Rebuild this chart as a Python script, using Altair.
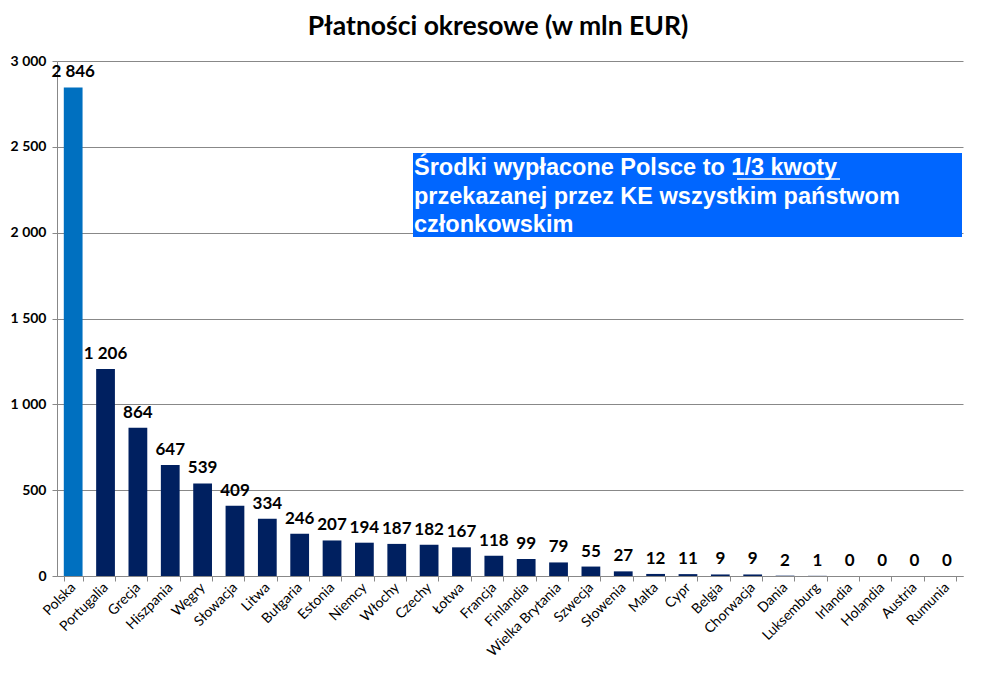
import altair as alt
import pandas as pd

countries = ["Polska", "Portugalia", "Grecja", "Hiszpania", "Węgry", "Słowacja", "Litwa",
             "Bułgaria", "Estonia", "Niemcy", "Włochy", "Czechy", "Łotwa", "Francja",
             "Finlandia", "Wielka Brytania", "Szwecja", "Słowenia", "Malta", "Cypr",
             "Belgia", "Chorwacja", "Dania", "Luksemburg", "Irlandia", "Holandia",
             "Austria", "Rumunia"]
values = [2846, 1206, 864, 647, 539, 409, 334, 246, 207, 194, 187, 182, 167, 118,
          99, 79, 55, 27, 12, 11, 9, 9, 2, 1, 0, 0, 0, 0]
labels = [f"{v:,}".replace(",", " ") for v in values]
highlight = ["Polska"]

box_lines = ["Środki wypłacone Polsce to 1/3 kwoty",
             "przekazanej przez KE wszystkim państwom",
             "członkowskim"]

df = pd.DataFrame({"kraj": countries, "wartosc": values, "etykieta": labels})

FONT = "Lato"

x = alt.X("kraj:N", sort=countries, title=None,
          scale=alt.Scale(paddingInner=0.42, paddingOuter=0.21),
          axis=alt.Axis(labelAngle=315, labelAlign="right", labelBaseline="middle",
                        labelFontSize=14, labelFont=FONT, labelColor="#000000",
                        labelPadding=4, tickBand="extent", tickSize=5,
                        tickColor="#888888", domainColor="#888888", labelOverlap=False))
y = alt.Y("wartosc:Q", title=None,
          scale=alt.Scale(domain=[0, 3000], nice=False),
          axis=alt.Axis(values=[0, 500, 1000, 1500, 2000, 2500, 3000],
                        labelExpr="replace(format(datum.value, ','), ',', ' ')",
                        labelFont=FONT, labelFontSize=14, labelFontWeight="bold",
                        labelColor="#000000", labelPadding=6, tickSize=5,
                        tickColor="#888888", domainColor="#888888",
                        gridColor="#888888", gridWidth=1))

base = alt.Chart(df)

bars = base.mark_bar().encode(
    x=x, y=y,
    color=alt.condition(alt.FieldOneOfPredicate(field="kraj", oneOf=highlight),
                        alt.value("#0070C0"), alt.value("#002060")),
)

text = base.mark_text(font=FONT, fontSize=17, fontWeight="bold", dy=-10,
                      baseline="alphabetic", color="#000000").encode(
    x=alt.X("kraj:N", sort=countries), y="wartosc:Q", text="etykieta:N")

one = pd.DataFrame({"a": [0]})
box = alt.Chart(one).mark_rect(color="#0066FF").encode(
    x=alt.value(356), x2=alt.value(905), y=alt.value(92), y2=alt.value(176))

line_layers = []
for i, line in enumerate(box_lines):
    line_layers.append(
        alt.Chart(one).mark_text(text=line, font="Liberation Sans", fontSize=23.5,
                                 fontWeight="bold", color="white", align="left",
                                 baseline="alphabetic").encode(
            x=alt.value(357), y=alt.value(114 + 28.5 * i)))

underline = alt.Chart(one).mark_rule(color="white", strokeWidth=1.5).encode(
    x=alt.value(680), x2=alt.value(783), y=alt.value(118))

chart = alt.layer(bars, text, box, *line_layers, underline).properties(
    width=906, height=515,
    title=alt.TitleParams("Płatności okresowe (w mln EUR)", font=FONT, fontSize=26.5,
                          fontWeight="bold", color="#000000", anchor="middle",
                          dx=-12, offset=14),
    autosize=alt.AutoSizeParams(type="none"),
    padding={"left": 57, "top": 61, "right": 42, "bottom": 99},
).configure_view(stroke=None).configure_axis(grid=False).configure_axisY(grid=True)

chart.save("out.html", embed_options={"renderer": "svg", "actions": False})
